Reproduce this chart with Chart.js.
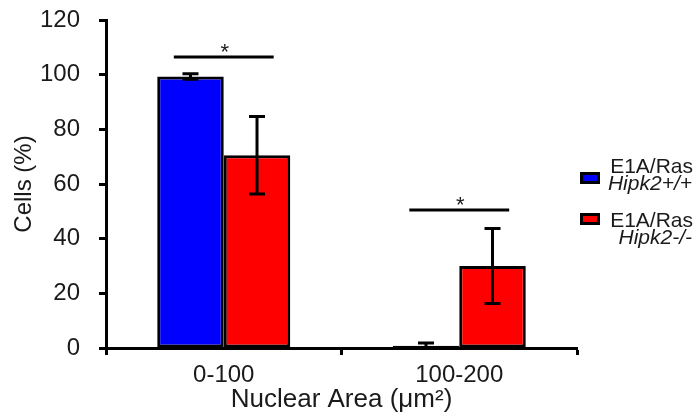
<!DOCTYPE html>
<html>
<head>
<meta charset="utf-8">
<script src="https://cdn.jsdelivr.net/npm/chart.js@4"></script>
<style>
  html, body { margin: 0; padding: 0; background: #fff; }
  #wrap { width: 696px; height: 420px; position: relative; }
</style>
</head>
<body>
<div id="wrap"><canvas id="chart" width="696" height="420"></canvas></div>
<script>
// chart data
const categories = ['0-100', '100-200'];
const wtLabel = ['E1A/Ras', 'Hipk2+/+'];
const koLabel = ['E1A/Ras', 'Hipk2-/-'];
const wtValues = [99.3, 0.8];
const wtErrors = [1, 1];
const koValues = [70.5, 30];
const koErrors = [14.2, 13.7];
const sigLevels = [106.5, 50.5];
const sigMarks = ['*', '*'];

const FONT = 'Liberation Sans, Arial, sans-serif';
const TEXT = '#1a1a1a';

// error bars, significance lines and the two-line legend
const extrasPlugin = {
  id: 'extras',
  afterDatasetsDraw(chart) {
    const ctx = chart.ctx;
    const y = chart.scales.y;
    const x = chart.scales.x;
    const errs = [wtErrors, koErrors];
    ctx.save();
    ctx.strokeStyle = '#000';
    ctx.lineWidth = 3;
    chart.data.datasets.forEach((ds, di) => {
      chart.getDatasetMeta(di).data.forEach((bar, i) => {
        const v = ds.data[i];
        const e = errs[di][i];
        const yt = y.getPixelForValue(v + e);
        const yb = y.getPixelForValue(v - e);
        ctx.beginPath();
        ctx.moveTo(bar.x, yt); ctx.lineTo(bar.x, yb);
        ctx.moveTo(bar.x - 8, yt); ctx.lineTo(bar.x + 8, yt);
        ctx.moveTo(bar.x - 8, yb); ctx.lineTo(bar.x + 8, yb);
        ctx.stroke();
      });
    });
    // significance bars
    const half = (x.getPixelForValue(1) - x.getPixelForValue(0)) * 0.212;
    sigLevels.forEach((lvl, i) => {
      const cx = x.getPixelForValue(i);
      const py = y.getPixelForValue(lvl);
      ctx.beginPath();
      ctx.moveTo(cx - half, py); ctx.lineTo(cx + half, py);
      ctx.stroke();
      ctx.fillStyle = TEXT;
      ctx.font = '22px ' + FONT;
      ctx.textAlign = 'center';
      ctx.textBaseline = 'alphabetic';
      ctx.fillText(sigMarks[i], cx + 1, py + 2);
    });
    ctx.restore();
  },
  afterDraw(chart) {
    const ctx = chart.ctx;
    const items = [
      { color: '#0000ff', lines: wtLabel, box: 172, base: 173 },
      { color: '#ff0000', lines: koLabel, box: 213, base: 227 }
    ];
    ctx.save();
    items.forEach(it => {
      ctx.fillStyle = '#000';
      ctx.fillRect(580, it.box, 20, 12);
      ctx.fillStyle = it.color;
      ctx.fillRect(583, it.box + 3, 14, 6);
      ctx.fillStyle = TEXT;
      ctx.textAlign = 'right';
      ctx.textBaseline = 'alphabetic';
      ctx.font = '21px ' + FONT;
      ctx.fillText(it.lines[0], 693, it.base);
      ctx.font = 'italic 21px ' + FONT;
      ctx.fillText(it.lines[1], 692, it.base + 17);
    });
    ctx.restore();
  }
};

new Chart(document.getElementById('chart'), {
  type: 'bar',
  data: {
    labels: categories,
    datasets: [
      {
        label: wtLabel.join(' '),
        data: wtValues,
        backgroundColor: '#0000ff',
        borderColor: '#000',
        borderWidth: 3,
        borderSkipped: false
      },
      {
        label: koLabel.join(' '),
        data: koValues,
        backgroundColor: '#ff0000',
        borderColor: '#000',
        borderWidth: 3,
        borderSkipped: false
      }
    ]
  },
  options: {
    responsive: false,
    animation: false,
    layout: { padding: { top: 20, right: 119, left: 0, bottom: 0 } },
    datasets: { bar: { categoryPercentage: 0.565, barPercentage: 1.0 } },
    plugins: { legend: { display: false }, tooltip: { enabled: false } },
    scales: {
      x: {
        grid: { offset: true, drawOnChartArea: false, tickLength: 7, tickWidth: 3, tickColor: '#000' },
        border: { color: '#000', width: 3 },
        ticks: { color: TEXT, font: { size: 24, family: FONT }, padding: 6 },
        title: { display: true, text: 'Nuclear Area (\u03bcm\u00b2)', color: TEXT, font: { size: 26, family: FONT }, padding: { top: 0, bottom: 5 } },
        afterFit(s) { s.height = 72; s.paddingLeft = 0; s.paddingRight = 0; }
      },
      y: {
        min: 0, max: 120,
        ticks: { stepSize: 20, color: TEXT, font: { size: 24, family: FONT }, padding: 19 },
        grid: { drawOnChartArea: false, tickLength: 7, tickWidth: 3, tickColor: '#000' },
        border: { color: '#000', width: 3 },
        title: { display: true, text: 'Cells (%)', color: TEXT, font: { size: 24, family: FONT }, padding: { top: 10, bottom: 0 } },
        afterFit(s) { s.width = 106; s.paddingTop = 0; s.paddingBottom = 0; }
      }
    }
  },
  plugins: [extrasPlugin]
});
</script>
</body>
</html>
